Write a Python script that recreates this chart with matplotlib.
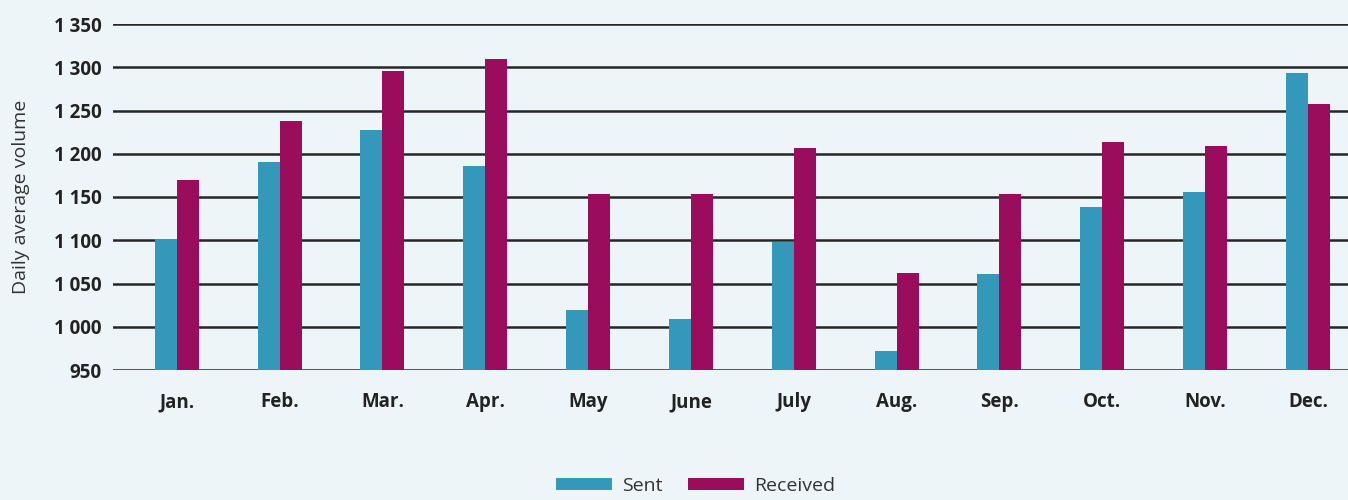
import numpy as np
import matplotlib.pyplot as plt

months = ['Jan.', 'Feb.', 'Mar.', 'Apr.', 'May', 'June', 'July',
          'Aug.', 'Sep.', 'Oct.', 'Nov.', 'Dec.']
sent = [1101, 1191, 1228, 1186, 1019, 1009, 1098, 972, 1061, 1138, 1156, 1293]
received = [1170, 1238, 1296, 1309, 1153, 1154, 1207, 1062, 1153, 1214, 1209, 1258]
y_ticks = [950, 1000, 1050, 1100, 1150, 1200, 1250, 1300, 1350]

bg = '#edf5f8'
sent_color = '#3398ba'
recv_color = '#9a0c5c'

plt.rcParams['font.family'] = ['Open Sans', 'DejaVu Sans']

fig = plt.figure(figsize=(13.48, 5.0), dpi=100, facecolor=bg)
ax = fig.add_axes([0.0838, 0.26, 0.9162, 0.692])
ax.set_facecolor(bg)

x = np.arange(len(months))
w = 0.214
ax.bar(x - w / 2, [v - 950 for v in sent], w, bottom=950, color=sent_color,
       label='Sent', zorder=3)
ax.bar(x + w / 2, [v - 950 for v in received], w, bottom=950, color=recv_color,
       label='Received', zorder=3)

ax.set_ylim(950, 1350)
ax.set_xlim(-0.62, 11.39)
ax.set_yticks(y_ticks)
ax.set_yticklabels([f'{v:,}'.replace(',', ' ') for v in y_ticks],
                   fontsize=13.5, fontweight='bold', color='#222222')
ax.set_xticks(x)
ax.set_xticklabels(months, fontsize=13.5, fontweight='bold', color='#222222')
ax.tick_params(axis='both', length=0)
ax.tick_params(axis='y', pad=8)
ax.tick_params(axis='x', pad=16)
ax.grid(axis='y', color='#262626', linewidth=1.8, zorder=1)
ax.set_axisbelow(True)
for s in ax.spines.values():
    s.set_visible(False)

ax.set_ylabel('Daily average volume', fontsize=14, color='#333333')
ax.yaxis.set_label_coords(-0.067, 0.5)

fig.legend(loc='center', bbox_to_anchor=(0.516, 0.028), ncol=2, frameon=False,
           fontsize=14, handlelength=2.9, handleheight=0.6,
           columnspacing=1.3, handletextpad=0.5, labelcolor='#333333',
           borderpad=0.2)

fig.savefig('out.png', dpi=100, facecolor=bg)
